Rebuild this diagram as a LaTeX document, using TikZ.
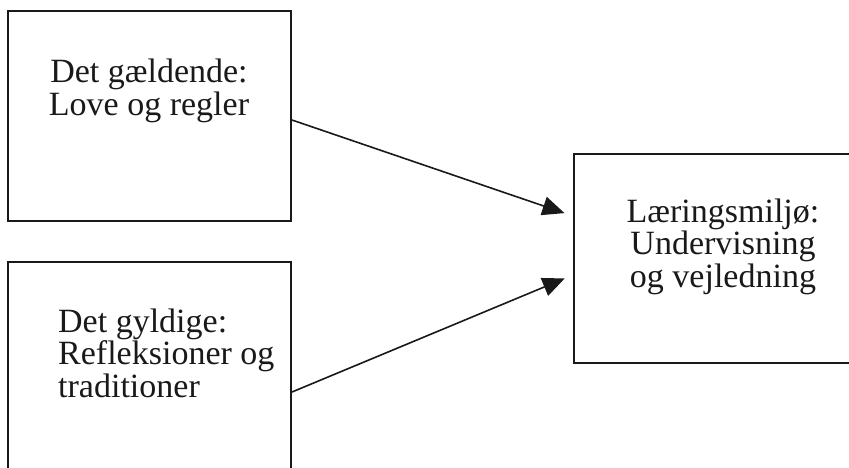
\documentclass[tikz,border=0pt]{standalone}
\usepackage{fontspec}
\setmainfont{Liberation Serif}
\usetikzlibrary{arrows.meta}
\begin{document}
\begin{tikzpicture}[x=1pt,y=-1pt,
  box/.style={draw=black!90,line width=2pt,rectangle,inner sep=0pt},
  txt/.style={font=\fontsize{34}{32.3}\selectfont,inner sep=0pt,text=black!90},
  arrow/.style={draw=black!90,line width=1.6pt,-{Triangle[length=22pt,width=19pt]}}]
  \useasboundingbox (0,0) rectangle (849,467);
  \begin{scope}
  \clip (0,0) rectangle (849,467);
  % three boxes
  \node[box,minimum width=283pt,minimum height=210pt] (b1) at (149.5,116) {};
  \node[box,minimum width=283pt,minimum height=260pt] (b2) at (149.5,392) {};
  \node[box,minimum width=330pt,minimum height=209pt] (b3) at (739,258.5) {};
  % labels (base anchor sits on the last line)
  \node[txt,align=center,anchor=base] (t1) at (149,115) {Det gældende:\\Love og regler};
  \node[txt,align=left,anchor=base west] (t2) at (58,397) {Det gyldige:\\Refleksioner og\\traditioner};
  \node[txt,align=center,anchor=base] (t3) at (723,287) {Læringsmiljø:\\Undervisning\\og vejledning};
  % connectors
  \draw[arrow,shorten >=9pt] ([yshift=-110pt]b1.north east) -- ([yshift=-63pt]b3.north west);
  \draw[arrow,shorten >=9pt] ([yshift=-131pt]b2.north east) -- ([yshift=-122pt]b3.north west);
  \end{scope}
\end{tikzpicture}
\end{document}
